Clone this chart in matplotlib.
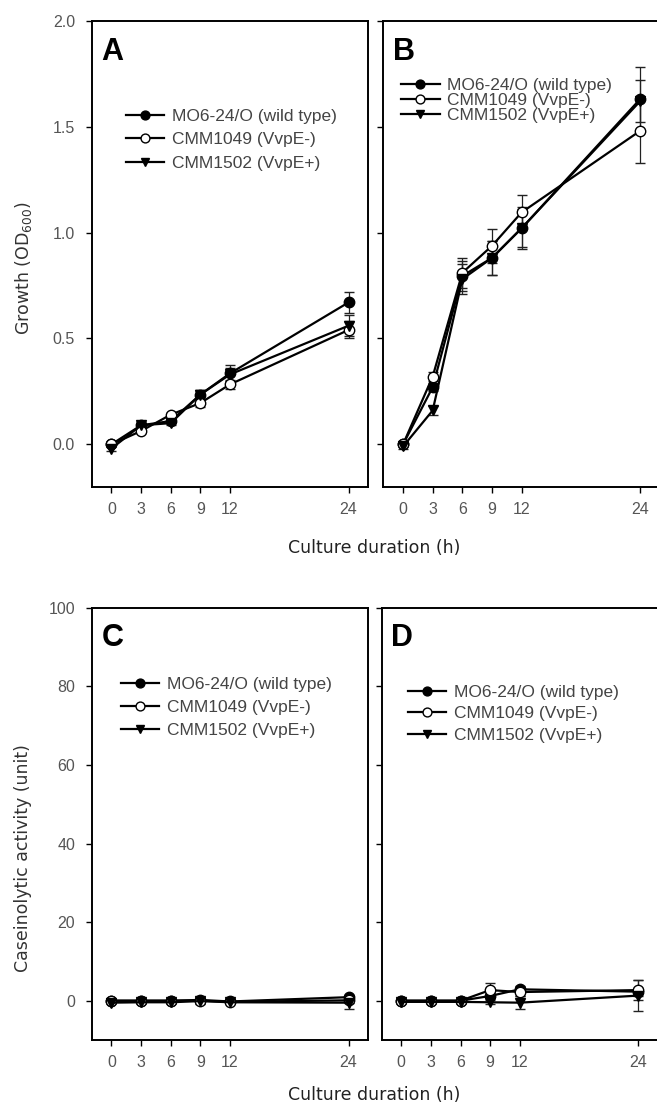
import matplotlib
matplotlib.use("Agg")
import matplotlib.pyplot as plt
import numpy as np

plt.rcParams['font.family'] = ['Liberation Sans', 'DejaVu Sans']

hours = [0, 3, 6, 9, 12, 24]
strains = ["MO6-24/O (wild type)", "CMM1049 (VvpE-)", "CMM1502 (VvpE+)"]

# A: growth
growth_a_wt = [0.0, 0.09, 0.11, 0.235, 0.335, 0.67]
growth_a_1049 = [0.0, 0.063, 0.14, 0.195, 0.283, 0.54]
growth_a_1502 = [-0.02, 0.09, 0.10, 0.235, 0.33, 0.56]
growth_a_wt_err = [0.01, 0.01, 0.01, 0.02, 0.04, 0.05]
growth_a_1049_err = [0.01, 0.01, 0.01, 0.02, 0.02, 0.04]
growth_a_1502_err = [0.01, 0.01, 0.01, 0.02, 0.03, 0.05]

# B: growth
growth_b_wt = [0.0, 0.27, 0.795, 0.88, 1.02, 1.63]
growth_b_1049 = [0.0, 0.32, 0.81, 0.937, 1.095, 1.48]
growth_b_1502 = [-0.01, 0.16, 0.78, 0.88, 1.02, 1.62]
growth_b_wt_err = [0.01, 0.02, 0.07, 0.08, 0.09, 0.15]
growth_b_1049_err = [0.01, 0.02, 0.07, 0.08, 0.08, 0.15]
growth_b_1502_err = [0.01, 0.02, 0.07, 0.08, 0.10, 0.10]

# C: caseinolytic activity
case_c_wt = [0.0, 0.0, 0.0, 0.2, -0.2, 0.9]
case_c_1049 = [0.0, 0.0, 0.0, 0.0, -0.3, 0.1]
case_c_1502 = [-0.5, -0.4, -0.4, -0.1, -0.4, -0.5]
case_c_wt_err = [0.2, 0.2, 0.2, 0.8, 0.3, 0.6]
case_c_1049_err = [0.2, 0.2, 0.2, 0.5, 0.3, 0.6]
case_c_1502_err = [0.2, 0.2, 0.2, 0.8, 0.3, 1.5]

# D: caseinolytic activity
case_d_wt = [0.0, 0.0, 0.0, 1.2, 2.9, 2.3]
case_d_1049 = [0.0, 0.0, 0.0, 2.7, 2.2, 2.7]
case_d_1502 = [-0.3, -0.3, -0.3, -0.4, -0.5, 1.3]
case_d_wt_err = [0.3, 0.3, 0.3, 0.5, 0.8, 1.0]
case_d_1049_err = [0.3, 0.3, 0.3, 1.9, 1.0, 2.6]
case_d_1502_err = [0.3, 0.3, 0.3, 0.5, 1.6, 4.0]

W, H = 657, 1109
fig = plt.figure(figsize=(W / 100, H / 100), dpi=100)


def px_axes(left, right, top, bottom):
    return fig.add_axes([left / W, 1 - bottom / H, (right - left) / W, (bottom - top) / H])


def panel(ax, letter, wt, m1049, m1502, e_wt, e_1049, e_1502, ylim, yticks,
          ylabels, leg_pos, leg_space):
    styles = [
        (wt, e_wt, dict(marker="o", mfc="black", mec="black")),
        (m1049, e_1049, dict(marker="o", mfc="white", mec="black")),
        (m1502, e_1502, dict(marker="v", mfc="black", mec="black")),
    ]
    handles = []
    for (vals, errs, st), lab in zip(styles, strains):
        c = ax.errorbar(hours, vals, yerr=errs, color="black", lw=1.6, ms=7.5,
                        mew=1.0, capsize=3.5, elinewidth=0.9, ecolor="#222222",
                        label=lab, **st)
        handles.append(c.lines[0])
    ax.set_xlim(-2, 26)
    ax.set_ylim(*ylim)
    ax.set_xticks(hours)
    ax.set_xticklabels([str(h) for h in hours])
    ax.set_yticks(yticks)
    if ylabels:
        ax.set_yticklabels(ylabels)
    else:
        ax.set_yticklabels([])
    ax.tick_params(direction="out", length=4, width=1, labelsize=11.5,
                   labelcolor="#555555", top=False, right=False)
    ax.tick_params(axis="x", pad=7)
    ax.tick_params(axis="y", pad=8)
    for s in ax.spines.values():
        s.set_linewidth(1.4)
    ax.text(0.035, 0.965, letter, transform=ax.transAxes, fontsize=22,
            fontweight="bold", va="top", ha="left")
    leg = ax.legend(handles, strains, loc="upper left", bbox_to_anchor=leg_pos,
                    frameon=False, fontsize=12.5, numpoints=1,
                    handlelength=2.2, handletextpad=0.45,
                    labelspacing=leg_space, borderaxespad=0, markerscale=0.85)
    for t in leg.get_texts():
        t.set_color("#444444")


ax_a = px_axes(91.7, 368.3, 20.7, 486.7)
panel(ax_a, "A", growth_a_wt, growth_a_1049, growth_a_1502,
      growth_a_wt_err, growth_a_1049_err, growth_a_1502_err,
      (-0.2, 2.0), [0.0, 0.5, 1.0, 1.5, 2.0],
      ["0.0", "0.5", "1.0", "1.5", "2.0"], (0.1, 0.826), 0.48)

ax_b = px_axes(383.3, 659.9, 20.7, 486.7)
panel(ax_b, "B", growth_b_wt, growth_b_1049, growth_b_1502,
      growth_b_wt_err, growth_b_1049_err, growth_b_1502_err,
      (-0.2, 2.0), [0.0, 0.5, 1.0, 1.5, 2.0], None, (0.04, 0.893), 0.0)

ax_c = px_axes(91.7, 368.3, 607.7, 1040)
panel(ax_c, "C", case_c_wt, case_c_1049, case_c_1502,
      case_c_wt_err, case_c_1049_err, case_c_1502_err,
      (-10, 100), [0, 20, 40, 60, 80, 100],
      ["0", "20", "40", "60", "80", "100"], (0.08, 0.856), 0.46)

ax_d = px_axes(381.5, 658, 607.7, 1040)
panel(ax_d, "D", case_d_wt, case_d_1049, case_d_1502,
      case_d_wt_err, case_d_1049_err, case_d_1502_err,
      (-10, 100), [0, 20, 40, 60, 80, 100], None, (0.07, 0.838), 0.37)

fig.text(374 / W, 1 - 548 / H, "Culture duration (h)", ha="center", va="center",
         fontsize=12.5, color="#222222", family="DejaVu Sans")
fig.text(374 / W, 1 - 1095 / H, "Culture duration (h)", ha="center", va="center",
         fontsize=12.5, color="#222222", family="DejaVu Sans")
fig.text(23 / W, 1 - 268 / H, "Growth (OD$_{600}$)", ha="center", va="center",
         rotation=90, fontsize=12.5, color="#333333", family="DejaVu Sans")
fig.text(23 / W, 1 - 858 / H, "Caseinolytic activity (unit)", ha="center",
         va="center", rotation=90, fontsize=12.5, color="#333333",
         family="DejaVu Sans")

fig.savefig("out.png", dpi=100)
